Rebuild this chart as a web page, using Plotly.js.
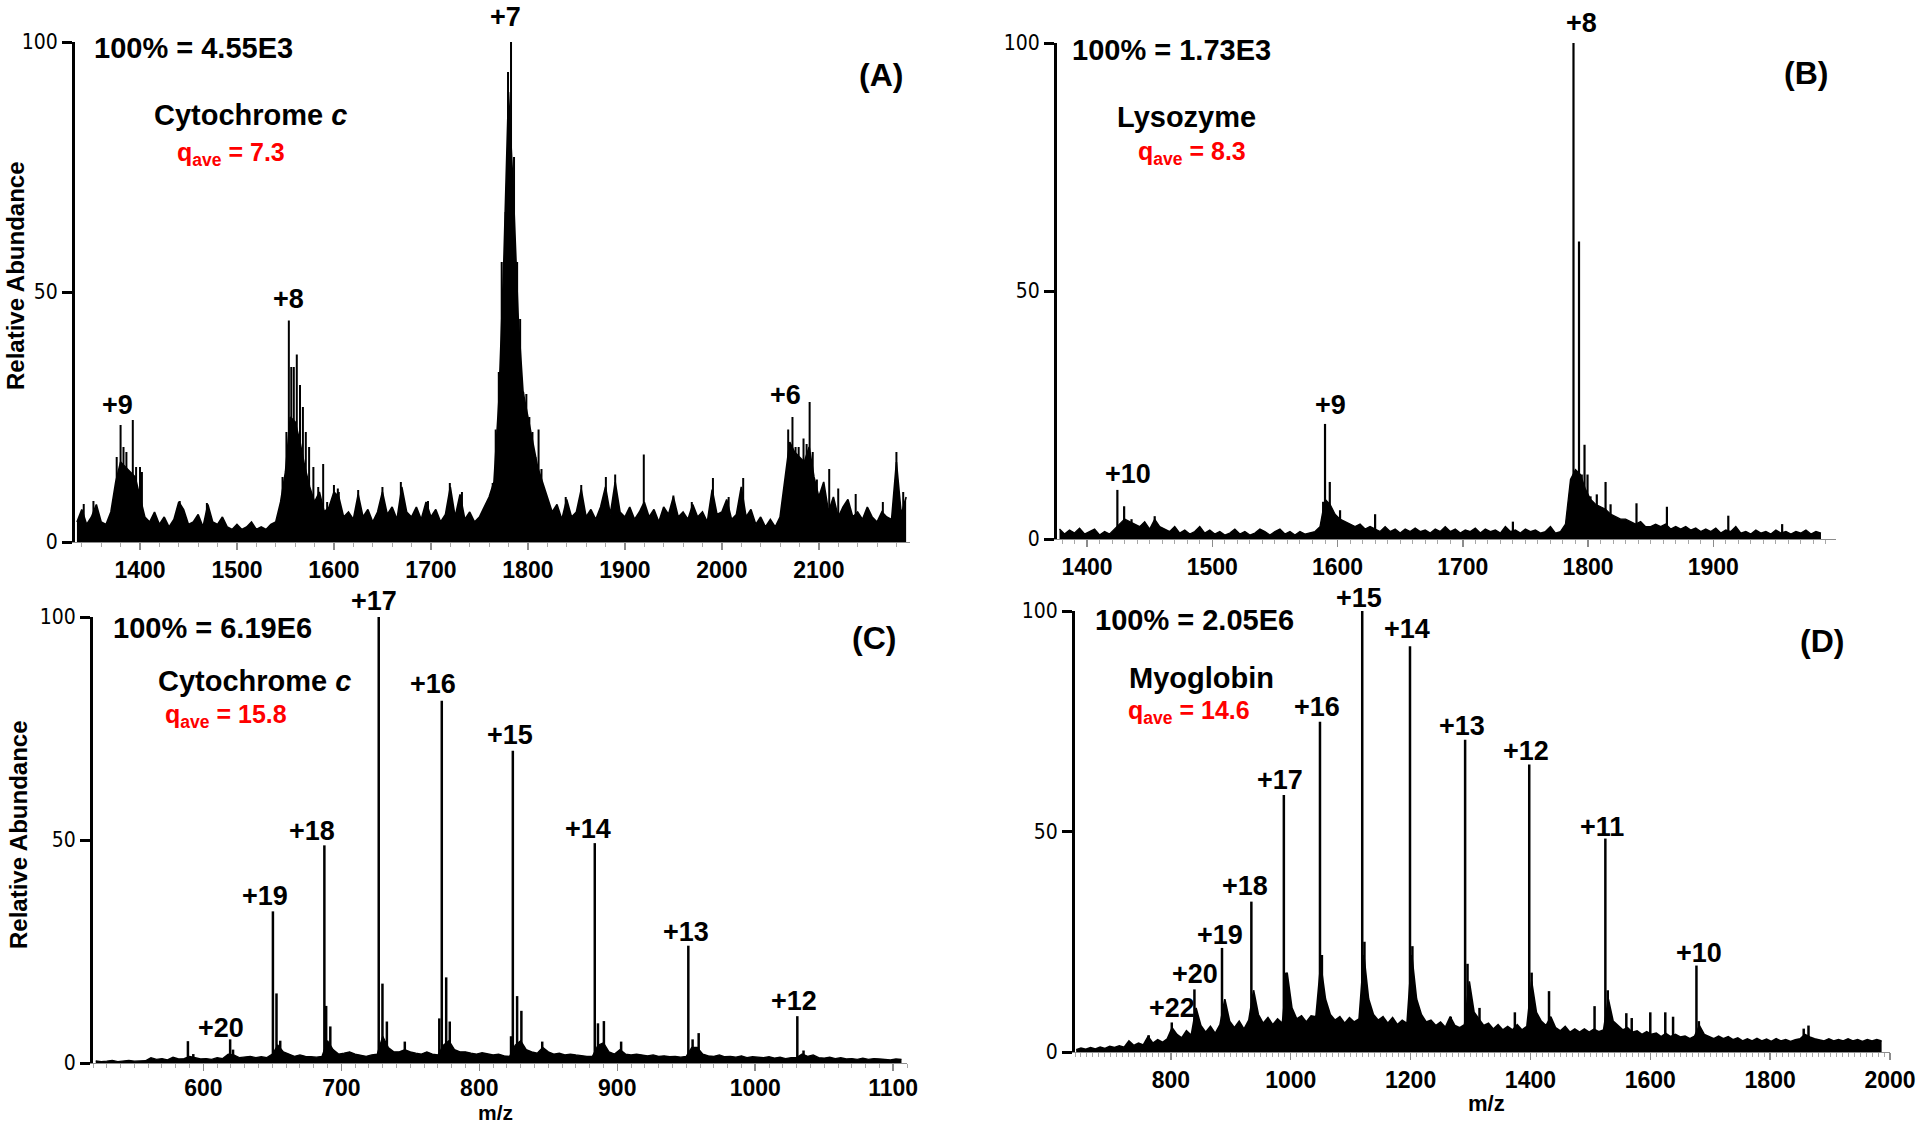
<!DOCTYPE html>
<html>
<head>
<meta charset="utf-8">
<script src="https://cdn.plot.ly/plotly-3.0.1.min.js"></script>
<style>
html,body{margin:0;padding:0;background:#fff;}
#chart{width:1920px;height:1126px;}
</style>
</head>
<body>
<div id="chart"></div>
<script>
// ---------------- Panel A : Cytochrome c (low charge) ----------------
const aNoiseStart = 1335, aNoiseStep = 5;
const aNoise = [
 4,6.5,3.5,5,7.5,4,3.5,6,
 12,16,15,14,13,9,5,
 4,6,3.5,5,3,4.5,8,6.5,3.5,4,5.5,3,7.5,4,3.5,5,3,2.5,3.5,2.5,3,4,2.5,3,2.5,3.5,4,8,
 14,25,24,20,15,11,8,10,6,
 7,10,9,5,6,4.5,9.5,5,6.5,4,6,10,5.5,7,4.5,11,6,5,7,4.5,8,5,6.5,4,5.5,11,5,9.5,4.5,6,4,5,7,9,
 12,28,55,90,70,45,30,25,20,15,12,
 9,6,7.5,4.5,8.5,5,6,10.5,5,6.5,4.5,7,11,5.5,12,6,5,7,4.5,6,8,5,6.5,4,7,5.5,9,5,6,4.5,7.5,5,6,4,10.5,5.5,6,8.5,4.5,5.5,11,5,6.5,3.5,5,3,4.5,3,5,
 13,20,18,17,16,19,13,9,
 12,6,9,5,7,8.5,5,6,4.5,7,5,4,6,5,4.5,16,5.5,9
];
const aPeakMz = [1376,1380,1383,1386,1392.6,1396,1400,1402,
 1547,1551,1553.5,1556,1558.6,1561.7,1565,1568,1571,1574.4,1578.8,1583.8,1588.9,1593,1600,1604,
 1763.7,1766.8,1770,1773,1777,1779.5,1782.6,1785.7,1788.9,1792,1795.2,1798.4,1801.5,1804.7,1807.8,1811,1814,
 2065.3,2068.4,2072.8,2076,2079.2,2084.2,2087.4,2090.5,2093.7,2098,2110.7,2120,
 1625,1650,1669,1719.5,1880.4,1890,1919.5,1990.8,2022,2180,
 1342,1352,1441,1469,1605,1697,1732,1839,1855,1950,1969,2007,2138,2166,2187];
const aPeakInt = [17,23.4,19,18,24.4,15,15,14,
 13,22,44.3,35,35,37.5,31.4,27,22,19,15,11,15.6,8,11.4,10.7,
 11.8,22.5,34,56,66,94,100,77,56,44.6,30,29.6,25,22,17,22.5,14.6,
 8.2,22.5,25,19,19,20.7,19.6,28,18,12.5,14.6,10.7,
 10.4,11,12,11.8,13,13.5,17.5,12.8,12.8,18,
 7.6,8.2,8.2,7.8,10,8.2,10,9,11.4,9.3,8,9,9.6,8,10];
const aLabelText = ['+9','+8','+7','+6'];
const aLabelMz = [1377,1553.6,1777,2066];
const aLabelY = [27.4,48.6,105,29.5];

// ---------------- Panel B : Lysozyme ----------------
const bNoiseStart = 1378, bNoiseStep = 4;
const bNoise = [
 2,1,1.8,1.2,2.2,1,1.5,2,0.8,1.5,1,
 2,3,4,3.5,3,2.5,3.5,2,4,2.5,
 2,1.5,2.5,1.2,1.8,1,1.5,2.5,1.2,1.8,1,1.5,0.8,1.2,2,1,1.5,0.8,1.2,2,1.5,0.8,1.5,2,1,1.5,0.8,1.5,1,1.2,1.5,
 2.5,8,7,5,4,3.5,3,2.5,3,2,2.5,2,
 1.5,2.5,1.5,2,1.2,2,1.5,2.2,1.5,1.8,1.2,2,1.5,2.5,1.5,2,1.2,1.8,1.5,2.2,1.2,2,1.5,1.8,1.2,2.5,1.5,1.8,1.2,2,1.5,1.8,1.2,1.5,2.5,1.2,1.5,3,
 12,14,13,10,8,7,6.5,6,5,4.5,4,4,3.5,3,3.5,2.5,2.5,
 3,2.5,3,2,2.5,2,2.5,1.8,2.2,1.5,2,1.5,2.2,1.2,1.8,1.5,2.5,1.2,1.5,1,1.8,1.2,1.5,1,1.8,1.2,1.5,1,1.5,1.2,1.8,1,1.5,1.2
];
const bPeakMz = [1424.2,1429.6,1435.5,1454,
 1588.5,1590,1593.8,1602,1630,
 1786.5,1788.4,1792.8,1795,1797.2,1799.6,1802,1807,1814,1818,1838.7,1863,1912,
 1740,1955];
const bPeakInt = [9.9,6.6,4,4.6,
 7.5,23.2,11.5,5.8,5,
 12,100,60,13,19,13,8.6,9,11.5,7,7.2,6.5,4.7,
 3.5,3];
const bLabelText = ['+10','+9','+8'];
const bLabelMz = [1432.7,1594,1795];
const bLabelY = [13.1,27,104];

// ---------------- Panel C : Cytochrome c (high charge) ----------------
const cNoiseStart = 522, cNoiseStep = 4;
const cNoise = [
 0.5,0.3,0.4,0.6,0.3,0.4,0.6,0.4,0.5,0.5,
 1.2,0.8,1,0.7,1.3,0.9,1,
 1.5,1.2,0.9,1,0.8,1.2,1,2,1.8,1.2,1.3,1.5,1.2,1.4,1.2,
 2,4,2.5,2,1.5,1.8,1.5,1.4,1.3,1.5,
 5,3,2,2.2,2.5,2,1.8,1.5,1.8,2,
 6,3.5,2.5,2.5,3,2.5,2.2,2,2.5,2,1.8,
 4,5,3,2.5,2.5,2.2,2,2.3,2,1.8,2,1.6,1.5,
 4,5,3,2.5,2.2,3.5,2.5,2,2.2,1.8,2,1.8,1.6,1.5,1.5,
 4,4.5,2.5,2,3,2,1.8,2,1.8,1.6,1.8,1.5,1.6,1.4,1.5,1.3,1.5,
 3.5,3.5,2,1.6,1.5,1.8,1.4,1.5,1.3,1.6,1.2,1.4,1.3,1.2,1.4,1.1,1.3,1,1.2,1.2,
 2,1.5,1.8,1.2,1.1,1.3,1,1.2,0.9,1,0.8,1.1,0.8,1,0.9,0.8,0.7,0.9,0.8
];
const cPeakMz = [588.8,592.7, 619.4,621.5, 650.4,653,655.7, 687.7,689,692,
 727.1,729.8,733,746, 771,772.8,776,778.6, 823,824.3,827.4,830.5,845.6,
 883.7,886,890.3,902.8, 951.5,954.6,959, 1030.5,1035];
const cPeakInt = [4.9,2, 5.3,3, 34,15.6,5, 48.8,12.8,8.2,
 100,17.8,9.3,4.8, 10,81.2,19.2,9.3, 6,70,15,11.7,4.8,
 49.3,8.9,9.4,4.8, 26.3,5.3,6.7, 10.5,2.8];
const cLabelText = ['+20','+19','+18','+17','+16','+15','+14','+13','+12'];
const cLabelMz = [613,644.6,678.7,724,766.4,822,879,950,1028];
const cLabelY = [7.8,37.4,52,103.5,84.9,73.5,52.5,29.3,13.9];

// ---------------- Panel D : Myoglobin ----------------
const dNoiseStart = 642, dNoiseStep = 8;
const dNoise = [
 0.5,0.9,0.6,1.0,0.7,1.1,0.8,1.3,1.0,1.4,
 1.1,2.5,1.5,2.0,1.6,3.5,2.0,2.8,2.2,3.0,
 5.5,4.0,3.2,4.8,3.8,10,6,4.5,5.8,4.2,
 6.2,12,7,5.5,7,5.2,7.2,14,8.5,6.5,
 7.8,6.2,7.5,6.5,18,10,7.5,8.2,6.8,8.2,
 8,20,12,8.5,7.2,8,6.5,7.8,6.8,7.5,
 22,12,8.5,7.2,8,6.5,7.8,6.2,7.2,6.5,
 22,12,8.5,6.8,7.2,6,6.8,5.6,8,6,
 5.5,6.2,16,9,7.5,6,6.5,5.2,6.2,5,
 5.8,5,6.2,5,5.8,16,9,7,6,8,
 5.5,4.8,5.8,4.5,5.2,4.5,5.2,4.5,5.2,4.6,
 5,12,7,6,5,5.5,4.5,4.8,4,4.6,
 4,4.3,3.5,4.2,3.5,4,3.4,3.6,3,3.6,
 6,4,3.5,3,3.6,3,3.5,2.8,3.2,2.5,
 3,2.5,3.1,2.5,2.9,2.4,3,2.5,2.8,2.4,
 2.8,3,4,3.4,3,2.7,2.5,3,2.5,2.8,
 2.5,3,2.5,2.8,2.4,2.8,2.5,2.8,2.5
];
const dPeakMz = [763,801.5,839.3,885.3,889,934.3,938,988.5,992,1048.8,
 1052,1119.3,1123,1199,1203,1267,1291,1295,1315,1374,
 1398,1402,1431,1507,1525,1529,1560,1569,1600,1625,
 1638,1677,1681,1856,1864];
const dPeakInt = [3.8,6.7,14.2,23.6,10,34.1,13,58.3,18,74.9,
 22,100,25,92,24,8,70.8,20,10,9,
 65.2,18,13.8,10.4,48.4,14,8.8,7.7,9,9,
 8,19.6,7,5.3,6];
const dLabelText = ['+22','+20','+19','+18','+17','+16','+15','+14','+13','+12','+11','+10'];
const dLabelMz = [802.5,841,882,923,982,1043,1114,1194,1286,1393,1519,1682];
const dLabelY = [10,17.7,26.5,37.6,61.7,78.2,103,95.9,73.9,68.3,51,22.4];

// ---------------- drawing ----------------
const W = 1920, H = 1126;
const FONT = "'Liberation Sans', Arial, Helvetica, sans-serif";
const NARROW = "'Liberation Sans Narrow', 'Arial Narrow', 'DejaVu Sans Condensed', 'Liberation Sans', sans-serif";

function sticks(mz, h) {
  const x = [], y = [];
  mz.forEach((m, i) => { x.push(m, m, null); y.push(0, h[i], null); });
  return {x, y};
}

const panels = [
  {ns: aNoiseStart, nd: aNoiseStep, n: aNoise, pm: aPeakMz, pi: aPeakInt, lt: aLabelText, lm: aLabelMz, ly: aLabelY, sw: 2, nw: 1.6},
  {ns: bNoiseStart, nd: bNoiseStep, n: bNoise, pm: bPeakMz, pi: bPeakInt, lt: bLabelText, lm: bLabelMz, ly: bLabelY, sw: 2.2, nw: 1.3},
  {ns: cNoiseStart, nd: cNoiseStep, n: cNoise, pm: cPeakMz, pi: cPeakInt, lt: cLabelText, lm: cLabelMz, ly: cLabelY, sw: 2.5, nw: 1.3},
  {ns: dNoiseStart, nd: dNoiseStep, n: dNoise, pm: dPeakMz, pi: dPeakInt, lt: dLabelText, lm: dLabelMz, ly: dLabelY, sw: 2.5, nw: 1.6}
];

const traces = [];
const annotations = [];
panels.forEach((p, i) => {
  const xa = i === 0 ? 'x' : 'x' + (i + 1);
  const ya = i === 0 ? 'y' : 'y' + (i + 1);
  traces.push({type: 'scatter', mode: 'lines', x0: p.ns, dx: p.nd, y: p.n,
    xaxis: xa, yaxis: ya, line: {color: '#000', width: p.nw}, fill: 'tozeroy', fillcolor: '#000',
    hoverinfo: 'skip', showlegend: false});
  const s = sticks(p.pm, p.pi);
  traces.push({type: 'scatter', mode: 'lines', x: s.x, y: s.y, connectgaps: false,
    xaxis: xa, yaxis: ya, line: {color: '#000', width: p.sw}, hoverinfo: 'skip', showlegend: false});
  p.lt.forEach((t, k) => {
    annotations.push({xref: xa, yref: ya + ' domain', x: p.lm[k], y: p.ly[k] / 100,
      text: '<b>' + t + '</b>', showarrow: false, xanchor: 'center', yanchor: 'middle',
      font: {family: FONT, size: 27, color: '#000'}});
  });
});

function txt(px, py, text, size, color, extra) {
  return Object.assign({xref: 'paper', yref: 'paper', x: px / W, y: 1 - py / H, text: text,
    showarrow: false, xanchor: 'center', yanchor: 'middle',
    font: {family: FONT, size: size, color: color}}, extra || {});
}
const RED = '#ff0000';
annotations.push(
  txt(193, 48, '<b>100% = 4.55E3</b>', 29, '#000'),
  txt(250, 115, '<b>Cytochrome <i>c</i></b>', 29, '#000'),
  txt(231, 154, '<b>q<sub>ave</sub> = 7.3</b>', 25, RED),
  txt(881, 75, '<b>(A)</b>', 32, '#000'),
  txt(15, 276, '<b>Relative Abundance</b>', 24, '#000', {textangle: -90}),

  txt(1171, 50, '<b>100% = 1.73E3</b>', 29, '#000'),
  txt(1186, 117, '<b>Lysozyme</b>', 29, '#000'),
  txt(1192, 153, '<b>q<sub>ave</sub> = 8.3</b>', 25, RED),
  txt(1806, 73, '<b>(B)</b>', 32, '#000'),

  txt(212, 628, '<b>100% = 6.19E6</b>', 29, '#000'),
  txt(254, 681, '<b>Cytochrome <i>c</i></b>', 29, '#000'),
  txt(226, 716, '<b>q<sub>ave</sub> = 15.8</b>', 25, RED),
  txt(874, 638, '<b>(C)</b>', 32, '#000'),
  txt(19, 835, '<b>Relative Abundance</b>', 24, '#000', {textangle: -90}),
  txt(495, 1112, '<b>m/z</b>', 21, '#000'),

  txt(1194, 620, '<b>100% = 2.05E6</b>', 29, '#000'),
  txt(1201, 678, '<b>Myoglobin</b>', 29, '#000'),
  txt(1189, 712, '<b>q<sub>ave</sub> = 14.6</b>', 25, RED),
  txt(1822, 641, '<b>(D)</b>', 32, '#000'),
  txt(1486, 1103, '<b>m/z</b>', 22, '#000')
);

function xaxis(domain, range, dtick, minor, anchor, standoff) {
  return {domain: domain, range: range, anchor: anchor, showline: true,
    linecolor: '#8c8c8c', linewidth: 1, layer: 'below traces',
    ticks: 'outside', ticklen: 7, tickwidth: 1.5, tickcolor: '#8c8c8c',
    tick0: 0, dtick: dtick, showgrid: false, zeroline: false, fixedrange: true,
    ticklabelstandoff: standoff || 0,
    tickfont: {family: FONT, size: 23, color: '#000', weight: 'bold'},
    minor: {dtick: minor, tick0: 0, ticks: 'outside', ticklen: 4, tickwidth: 1, tickcolor: '#a8a8a8', showgrid: false}
  };
}
function yaxis(domain, anchor) {
  return {domain: domain, range: [0, 100], anchor: anchor, showline: true, linecolor: '#000', linewidth: 3,
    ticks: 'outside', ticklen: 10, tickwidth: 3, tickcolor: '#000', tickvals: [0, 50, 100],
    showgrid: false, zeroline: false, fixedrange: true,
    tickfont: {family: NARROW, size: 21, color: '#000'}};
}

const layout = {
  width: W, height: H, margin: {l: 0, r: 0, t: 0, b: 0},
  paper_bgcolor: '#fff', plot_bgcolor: '#fff', showlegend: false, hovermode: false,
  font: {family: FONT, color: '#000'},
  xaxis: xaxis([75 / W, 910 / W], [1333, 2194], 100, 20, 'y'),
  yaxis: yaxis([1 - 542 / H, 1 - 42 / H], 'x'),
  xaxis2: xaxis([1057 / W, 1836 / W], [1376, 1998], 100, 10, 'y2'),
  yaxis2: yaxis([1 - 539 / H, 1 - 43 / H], 'x2'),
  xaxis3: xaxis([93 / W, 907 / W], [520, 1110], 100, 10, 'y3', -3),
  yaxis3: yaxis([1 - 1063 / H, 1 - 617 / H], 'x3'),
  xaxis4: xaxis([1075 / W, 1890 / W], [640, 2000], 200, 10, 'y4'),
  yaxis4: yaxis([1 - 1052 / H, 1 - 611 / H], 'x4'),
  annotations: annotations
};

Plotly.newPlot('chart', traces, layout, {staticPlot: true, displayModeBar: false});
</script>
</body>
</html>
